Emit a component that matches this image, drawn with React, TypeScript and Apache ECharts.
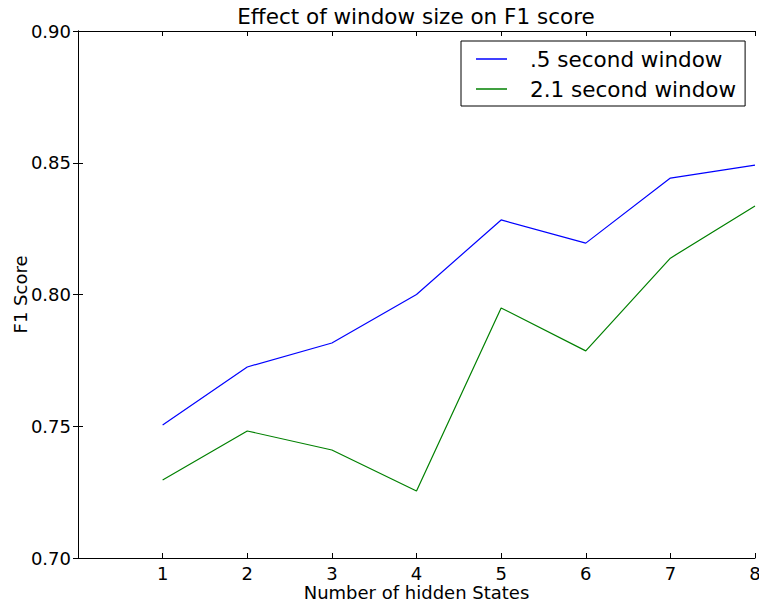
import React, { useEffect, useRef } from "react";
import * as echarts from "echarts";

const hiddenStates = [1, 2, 3, 4, 5, 6, 7, 8];
const halfSecond = [0.7505, 0.7725, 0.7816, 0.8, 0.8283, 0.8195, 0.8442, 0.8491];
const twoPointOneSecond = [0.7296, 0.7482, 0.741, 0.7254, 0.7949, 0.7786, 0.8138, 0.8336];
const seriesNames = [".5 second window", "2.1 second window"];

const FONT = "DejaVu Sans";

export default function App() {
  const ref = useRef<HTMLDivElement>(null);
  useEffect(() => {
    if (!ref.current) return;
    const chart = echarts.init(ref.current, undefined, { renderer: "svg" });
    const axisCommon = {
      axisLine: { show: true, lineStyle: { color: "#000", width: 1 } },
      axisTick: { show: true, inside: true, length: 5, lineStyle: { color: "#000" } },
      splitLine: { show: false },
    };
    chart.setOption({
      animation: false,
      backgroundColor: "#fff",
      title: {
        text: "Effect of window size on F1 score",
        left: 411,
        textAlign: "center",
        top: 0,
        textStyle: { fontFamily: FONT, fontSize: 21.5, fontWeight: "normal", color: "#000" },
      },
      legend: {
        data: seriesNames,
        orient: "vertical",
        left: 461,
        top: 41,
        padding: [7, 9, 6, 15],
        icon: "rect",
        itemWidth: 31,
        itemHeight: 1.5,
        itemGap: 8,
        borderColor: "#000",
        borderWidth: 1,
        borderRadius: 0,
        backgroundColor: "#fff",
        textStyle: { fontFamily: FONT, fontSize: 21.5, color: "#000", padding: [0, 0, 0, 18] },
      },
      grid: { left: 78, right: 4, top: 31, bottom: 46, containLabel: false, outerBoundsMode: "none" },
      xAxis: [
        {
          type: "value",
          min: 0,
          max: 8,
          interval: 1,
          position: "bottom",
          name: "Number of hidden States",
          nameLocation: "middle",
          nameGap: 25,
          nameMoveOverlap: false,
          nameTextStyle: { fontFamily: FONT, fontSize: 18, color: "#000" },
          axisLabel: {
            fontFamily: FONT,
            fontSize: 18,
            color: "#000",
            margin: 6,
            formatter: (v: number) => (v === 0 ? "" : String(v)),
          },
          ...axisCommon,
        },
        {
          type: "value",
          min: 0,
          max: 8,
          interval: 1,
          position: "top",
          axisLabel: { show: false },
          ...axisCommon,
        },
      ],
      yAxis: [
        {
          type: "value",
          min: 0.7,
          max: 0.9,
          interval: 0.05,
          position: "left",
          name: "F1 Score",
          nameLocation: "middle",
          nameGap: 49,
          nameMoveOverlap: false,
          nameRotate: 90,
          nameTextStyle: { fontFamily: FONT, fontSize: 18, color: "#000" },
          axisLabel: {
            fontFamily: FONT,
            fontSize: 18,
            color: "#000",
            margin: 7,
            formatter: (v: number) => v.toFixed(2),
          },
          ...axisCommon,
        },
        {
          type: "value",
          min: 0.7,
          max: 0.9,
          interval: 0.05,
          position: "right",
          axisLabel: { show: false },
          ...axisCommon,
        },
      ],
      series: [
        {
          name: seriesNames[0],
          type: "line",
          data: hiddenStates.map((x, i) => [x, halfSecond[i]]),
          showSymbol: false,
          symbol: "none",
          lineStyle: { color: "#0000ff", width: 1.2 },
          itemStyle: { color: "#0000ff" },
        },
        {
          name: seriesNames[1],
          type: "line",
          data: hiddenStates.map((x, i) => [x, twoPointOneSecond[i]]),
          showSymbol: false,
          symbol: "none",
          lineStyle: { color: "#008000", width: 1.2 },
          itemStyle: { color: "#008000" },
        },
      ],
    });
    return () => chart.dispose();
  }, []);
  return (
    <div
      ref={ref}
      style={{ position: "fixed", left: 0, top: 0, width: 759, height: 604, background: "#fff" }}
    />
  );
}
